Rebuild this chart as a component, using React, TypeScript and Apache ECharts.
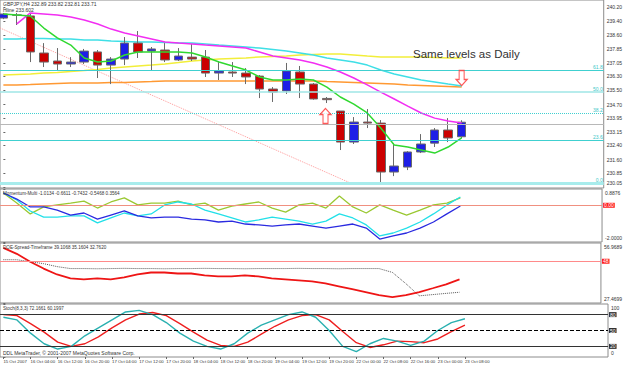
import React, { useEffect, useRef } from "react";
import * as echarts from "echarts";

// ---------- data ----------
const timeLabels = [
  "15 Oct 2007", "16 Oct 04:00", "16 Oct 12:00", "16 Oct 20:00", "17 Oct 04:00", "17 Oct 12:00",
  "17 Oct 20:00", "18 Oct 04:00", "18 Oct 12:00", "18 Oct 20:00", "19 Oct 04:00", "19 Oct 12:00",
  "19 Oct 20:00", "22 Oct 00:00", "22 Oct 08:00", "22 Oct 16:00", "23 Oct 00:00", "23 Oct 08:00",
];
const timeTickBars = [0, 2, 4, 6, 8, 10, 12, 14, 16, 18, 20, 22, 24, 26, 28, 30, 32, 34];
const priceTicks = [240.2, 239.4, 238.6, 237.85, 237.05, 236.3, 235.5, 234.7, 233.95, 233.15, 232.4, 231.6, 230.85, 230.05];

const opens = [239.58, 239.76, 239.70, 237.61, 237.16, 236.99, 237.10, 237.67, 236.93, 237.27, 238.17, 237.72, 237.78, 237.22, 237.38, 237.38, 236.48, 236.54, 236.48, 236.31, 235.58, 235.47, 236.54, 235.86, 235.05, 234.34, 232.59, 233.72, 233.66, 230.90, 231.18, 232.03, 232.53, 233.27, 232.89];
const closes = [239.81, 239.74, 237.67, 237.10, 236.99, 237.10, 237.72, 236.93, 237.27, 238.17, 237.67, 237.84, 237.22, 237.44, 237.27, 236.48, 236.60, 236.48, 236.26, 235.58, 235.41, 236.60, 235.86, 235.02, 234.98, 232.59, 233.72, 233.66, 230.90, 231.24, 232.03, 232.48, 233.27, 232.82, 233.71];
const lows = [239.52, 239.19, 237.10, 236.82, 236.65, 236.82, 236.99, 236.20, 235.86, 236.93, 237.33, 236.60, 237.10, 237.16, 237.16, 236.26, 236.09, 236.26, 235.86, 235.07, 234.85, 235.30, 235.07, 234.98, 234.79, 232.14, 232.48, 233.38, 230.28, 230.67, 231.01, 231.97, 232.31, 232.59, 232.81];
const highs = [239.87, 239.87, 239.87, 238.17, 237.89, 237.38, 237.84, 237.78, 237.38, 238.51, 238.85, 237.95, 238.17, 237.89, 238.12, 237.78, 237.10, 237.10, 236.76, 236.37, 235.69, 237.05, 236.88, 235.92, 235.13, 234.34, 234.00, 234.45, 233.83, 232.53, 232.08, 233.04, 233.38, 233.94, 233.82];

const maMagenta = [null, 239.25, 239.87, 239.81, 239.75, 239.64, 239.47, 239.25, 238.96, 238.74, 238.57, 238.40, 238.23, 238.17, 238.12, 238.06, 238.01, 237.95, 237.89, 237.67, 237.44, 237.33, 237.22, 237.05, 236.82, 236.54, 236.20, 235.81, 235.41, 235.02, 234.62, 234.23, 233.94, 233.78, 233.66];
const maGreen = [239.81, 239.75, 239.70, 239.02, 238.46, 238.06, 237.33, 237.10, 237.16, 237.50, 237.67, 237.67, 237.67, 237.67, 237.61, 237.39, 237.10, 236.88, 236.65, 236.26, 236.09, 236.09, 236.14, 236.09, 235.69, 235.13, 234.73, 234.23, 233.38, 232.42, 232.31, 232.14, 231.97, 232.31, 232.82];
const maCyan = [238.40, 238.40, 238.43, 238.43, 238.40, 238.40, 238.34, 238.34, 238.29, 238.26, 238.23, 238.23, 238.20, 238.17, 238.17, 238.12, 238.06, 238.01, 237.95, 237.89, 237.81, 237.72, 237.61, 237.50, 237.33, 237.22, 237.10, 236.93, 236.65, 236.43, 236.26, 236.09, 235.98, 235.86, 235.75];
const maYellow = [236.37, 236.40, 236.43, 236.48, 236.51, 236.57, 236.62, 236.68, 236.76, 236.82, 236.88, 236.93, 236.99, 237.07, 237.16, 237.22, 237.27, 237.30, 237.33, 237.39, 237.41, 237.44, 237.50, 237.53, 237.55, 237.55, 237.50, 237.44, 237.39, 237.39, 237.39, 237.39, 237.36, 237.33, 237.33];
const maOrange = [235.81, 235.81, 235.83, 235.86, 235.89, 235.92, 235.92, 235.92, 235.95, 235.95, 235.98, 236.00, 236.03, 236.03, 236.03, 236.03, 236.03, 236.03, 236.03, 236.03, 236.03, 236.03, 236.03, 236.03, 236.00, 235.98, 235.95, 235.92, 235.89, 235.86, 235.81, 235.78, 235.75, 235.72, 235.69];

const fibLabels = ["0.0", "23.6", "38.2", "50.0", "61.8"];
const fibPrices = [230.28, 232.70, 234.20, 235.41, 236.62];
const hlinePrice = 233.602;
const lastPrice = 233.71;
const trendLine = [[-0.24, 239.02], [25.75, 230.28]];
const arrowUp = [23.9, 234.06];
const arrowDown = [34, 236.2];

const momBlue = [0.67, 0.34, -0.09, -0.09, -0.26, -0.53, -0.42, -0.75, -0.53, -0.31, -0.58, -0.69, -0.64, -0.64, -0.75, -0.80, -0.91, -0.86, -1.02, -1.07, -1.13, -1.07, -1.02, -1.13, -1.24, -1.13, -1.02, -1.24, -1.84, -1.67, -1.51, -1.24, -0.91, -0.47, -0.04];
const momCyan = [0.67, 0.29, -0.31, -0.64, -0.64, -0.58, -0.58, -0.96, -0.69, -0.42, -0.58, -0.47, 0.02, 0.18, 0.07, -0.26, -0.47, -0.69, -0.91, -0.80, -0.64, -0.75, -0.86, -1.02, -0.86, -0.47, -0.69, -1.07, -1.67, -1.51, -1.24, -0.91, -0.47, 0.02, 0.45];
const momOlive = [0.67, 0.12, -0.47, -0.09, 0.02, 0.12, 0.23, -0.15, 0.18, 0.40, 0.02, 0.12, 0.12, 0.23, 0.02, 0.12, -0.26, -0.04, 0.07, 0.18, -0.15, -0.37, 0.02, 0.12, -0.15, 0.51, -0.09, -0.42, 0.02, -0.26, -0.53, -0.26, 0.02, 0.12, 0.40];
const momTicks = [0.8876, -2.0];
const momLevel = 0;

const doeRed = [54.55, 51.65, 47.78, 44.40, 41.50, 39.56, 39.08, 39.56, 39.08, 40.04, 41.50, 42.46, 42.46, 41.98, 41.98, 41.01, 40.53, 40.53, 41.01, 40.53, 39.56, 39.08, 38.59, 38.11, 37.14, 35.69, 34.24, 32.79, 31.34, 30.37, 31.34, 32.79, 34.72, 36.66, 39.11];
const doeDotted = [48.75, 48.75, 47.78, 46.81, 45.36, 44.40, 44.40, 44.30, 44.40, 44.50, 44.40, 44.40, 44.30, 44.40, 44.40, 44.50, 44.40, 44.40, 44.30, 44.40, 44.40, 44.40, 44.50, 44.40, 44.40, 44.30, 44.40, 44.40, 44.40, 42.50, 37.00, 31.00, 31.60, 32.20, 32.76];
const doeTicks = [56.9689, 27.4699];
const doeLevel = 48;

const stochMain = [75, 70, 45, 25, 15, 20, 40, 55, 70, 85, 88, 80, 65, 45, 30, 20, 15, 25, 45, 60, 70, 80, 85, 75, 50, 20, 10, 25, 35, 30, 22, 30, 50, 65, 72.17];
const stochSignal = [80, 78, 63, 47, 28, 20, 25, 38, 55, 70, 81, 84, 78, 63, 47, 32, 22, 20, 28, 43, 58, 70, 78, 80, 70, 48, 27, 18, 23, 30, 29, 27, 34, 48, 60.2];
const stochTicks = [100, 0];
const stochLevels = [80, 50, 20];

// ---------- layout ----------
const XMIN = -0.25;
const XMAX = 44.54;
const FONT = "Liberation Sans, Arial, sans-serif";
const grids = [
  { top: 0, height: 188 },
  { top: 189, height: 53 },
  { top: 243, height: 60 },
  { top: 304, height: 53 },
];

const pts = (arr: (number | null)[]) =>
  arr.map((v, i) => [i, v]).filter((p) => p[1] !== null);

const lineSeries = (name: string, data: any[], color: string, idx: number, width = 1.5, type: any = "solid", z = 3) => ({
  name,
  type: "line",
  xAxisIndex: idx,
  yAxisIndex: idx,
  data,
  showSymbol: false,
  symbol: "none",
  silent: true,
  z,
  lineStyle: { color, width, type },
});

const levelLabel = (text: string, bg: string, fontSize = 5) => ({
  show: true,
  position: "end",
  formatter: text,
  backgroundColor: bg,
  color: "#fff",
  fontSize,
  padding: [0, 1],
  distance: 1,
  fontFamily: FONT,
});

function buildOption() {
  const xAxes = grids.map((_, i) => ({
    type: "value",
    gridIndex: i,
    min: XMIN,
    max: XMAX,
    splitLine: { show: false },
    axisLine: { show: false },
    axisTick: i === 3 ? { show: true, customValues: timeTickBars, length: 2, lineStyle: { color: "#666" } } : { show: false },
    axisLabel:
      i === 3
        ? {
            show: true,
            customValues: timeTickBars,
            formatter: (v: number) => timeLabels[Math.round(v / 2)] ?? "",
            align: "left",
            fontSize: 4.3,
            color: "#333",
            margin: 2,
            fontFamily: FONT,
            showMinLabel: true,
            showMaxLabel: true,
            hideOverlap: false,
          }
        : { show: false },
  }));

  const labelStyle = { fontSize: 5, color: "#333", fontFamily: FONT };
  const yAxisBase = (
    i: number,
    min: number,
    max: number,
    ticks: number[],
    fmt: (v: number) => string,
    topVals: number[],
    bottomVals: number[]
  ) => ({
    type: "value",
    gridIndex: i,
    position: "right",
    min,
    max,
    splitLine: { show: false },
    axisLine: { show: false },
    axisTick: { show: true, customValues: ticks, length: 2, lineStyle: { color: "#666" } },
    axisLabel: {
      show: true,
      customValues: ticks,
      formatter: (v: number) =>
        topVals.some((t) => Math.abs(t - v) < 1e-6)
          ? `{t|${fmt(v)}}`
          : bottomVals.some((t) => Math.abs(t - v) < 1e-6)
          ? `{b|${fmt(v)}}`
          : fmt(v),
      ...labelStyle,
      margin: 3,
      showMinLabel: true,
      showMaxLabel: true,
      rich: {
        t: { ...labelStyle, padding: [8, 0, 0, 0] },
        b: { ...labelStyle, padding: [0, 0, 8, 0] },
      },
    },
  });

  const yAxes = [
    yAxisBase(0, 230.0, 240.6, priceTicks, (v) => v.toFixed(2), [], [230.05]),
    yAxisBase(1, -2.0, 0.8876, momTicks, (v) => v.toFixed(4), [0.8876], [-2.0]),
    yAxisBase(2, 27.4699, 56.9689, doeTicks, (v) => v.toFixed(4), [56.9689], [27.4699]),
    yAxisBase(3, 0, 100, stochTicks, (v) => String(v), [100], [0]),
  ];

  const fibMarkData = fibPrices.map((p, k) => ({
    yAxis: p,
    lineStyle:
      k === 0
        ? { color: "#a8ecec", width: 3, type: "solid" }
        : k === 2
        ? { color: "#40d0d0", width: 1, type: "dotted" }
        : k === 3
        ? { color: "#9fe6e6", width: 1.5, type: "solid" }
        : { color: "#40d0d0", width: 1.2, type: "solid" },
    label: {
      show: true,
      position: "insideEndTop",
      formatter: fibLabels[k],
      color: "#40c8c8",
      fontSize: 5,
      distance: 1,
      fontFamily: FONT,
    },
  }));

  const series: any[] = [
    {
      name: "trend",
      type: "line",
      xAxisIndex: 0,
      yAxisIndex: 0,
      data: trendLine,
      showSymbol: false,
      symbol: "none",
      silent: true,
      z: 1,
      lineStyle: { color: "#ff9a9a", width: 1, type: "dotted" },
      markLine: {
        silent: true,
        symbol: ["none", "none"],
        animation: false,
        data: [
          ...fibMarkData,
          { yAxis: hlinePrice, lineStyle: { color: "#b8b8b8", width: 1, type: "solid" }, label: { show: false } },
        ],
      },
    },
    lineSeries("orange", pts(maOrange), "#ff9933", 0, 1.5, "solid", 2),
    lineSeries("yellow", pts(maYellow), "#f2ee3a", 0, 1.5, "solid", 2),
    lineSeries("cyan", pts(maCyan), "#3fdfe6", 0, 1.5, "solid", 2),
    {
      name: "candles",
      type: "candlestick",
      xAxisIndex: 0,
      yAxisIndex: 0,
      data: opens.map((o, i) => [i, o, closes[i], lows[i], highs[i]]),
      barWidth: 9,
      z: 3,
      silent: true,
      itemStyle: {
        color: "#1e1ee6",
        color0: "#cc0000",
        borderColor: "#6a6a6a",
        borderColor0: "#6a6a6a",
        borderWidth: 1,
      },
      markLine: {
        silent: true,
        symbol: ["none", "none"],
        animation: false,
        data: [
          {
            yAxis: lastPrice,
            lineStyle: { opacity: 0 },
            label: levelLabel(lastPrice.toFixed(2), "#000", 4.5),
          },
        ],
      },
    },
    lineSeries("magenta", pts(maMagenta), "#f22ef2", 0, 1.5, "solid", 4),
    lineSeries("green", pts(maGreen), "#30d830", 0, 1.5, "solid", 4),
    {
      name: "arrows",
      type: "scatter",
      xAxisIndex: 0,
      yAxisIndex: 0,
      silent: true,
      z: 5,
      symbolSize: [11, 15],
      itemStyle: { color: "#ffffff", borderColor: "#ff3030", borderWidth: 1.2 },
      data: [
        { value: arrowUp, symbol: "path://M5.5,0 L11,6 L8,6 L8,15 L3,15 L3,6 L0,6 Z" },
        { value: arrowDown, symbol: "path://M3,0 L8,0 L8,9 L11,9 L5.5,15 L0,9 L3,9 Z" },
      ],
    },
    {
      ...lineSeries("momOlive", pts(momOlive), "#9ac832", 1, 1.3),
      markLine: {
        silent: true,
        symbol: ["none", "none"],
        animation: false,
        data: [{ yAxis: momLevel, lineStyle: { color: "#f09080", width: 1, type: "solid" }, label: levelLabel("0.00", "#ff2020") }],
      },
    },
    lineSeries("momCyan", pts(momCyan), "#22e0e8", 1, 1.3),
    lineSeries("momBlue", pts(momBlue), "#2a2ae0", 1, 1.3),
    {
      ...lineSeries("doeDotted", pts(doeDotted), "#555555", 2, 1, "dotted"),
      markLine: {
        silent: true,
        symbol: ["none", "none"],
        animation: false,
        data: [{ yAxis: doeLevel, lineStyle: { color: "#ff8a8a", width: 1, type: "solid" }, label: levelLabel(String(doeLevel), "#ff2020") }],
      },
    },
    lineSeries("doeRed", pts(doeRed), "#ee1515", 2, 1.8),
    {
      ...lineSeries("stochSignal", pts(stochSignal), "#ee2020", 3, 1.4),
      markLine: {
        silent: true,
        symbol: ["none", "none"],
        animation: false,
        data: stochLevels.map((lv) => ({
          yAxis: lv,
          lineStyle: { color: lv === 50 ? "#000" : "#333", width: 1, type: lv === 50 ? "dashed" : "solid" },
          label: levelLabel(String(lv), "#333"),
        })),
      },
    },
    lineSeries("stochMain", pts(stochMain), "#2ab0b0", 3, 1.4),
  ];

  const txt = (text: string, left: number, top: number, fontSize = 5, fill = "#333") => ({
    type: "text",
    left,
    top,
    silent: true,
    z: 100,
    style: { text, fontSize, fill, fontFamily: FONT },
  });

  return {
    animation: false,
    backgroundColor: "#ffffff",
    textStyle: { fontFamily: FONT },
    grid: grids.map((g) => ({
      left: 0,
      right: 17,
      top: g.top,
      height: g.height,
      show: true,
      borderColor: "#8c8c8c",
      borderWidth: 1,
      containLabel: false,
    })),
    xAxis: xAxes,
    yAxis: yAxes,
    series,
    graphic: [
      txt("GBPJPY,H4 232.89 233.82 232.81 233.71", 3, 1),
      txt("Hline 233.602", 3, 7),
      txt("Momentum-Multi -1.0134 -0.6611 -0.7432 -0.5468 0.3564", 3, 191, 4.6),
      txt("DOE-Spread-Timeframe 39.1068 35.1604 32.7620", 3, 245, 4.6),
      txt("Stoch(8,3,3) 72.1661 60.1997", 3, 306, 4.6),
      txt("DDL MetaTrader, \u00a9 2001-2007 MetaQuotes Software Corp.", 3, 350, 5),
      txt("Same levels as Daily", 413, 48, 11.5, "#333"),
    ],
  };
}

export default function App() {
  const ref = useRef<HTMLDivElement>(null);
  useEffect(() => {
    if (!ref.current) return;
    const chart = echarts.init(ref.current, null, { renderer: "svg" });
    chart.setOption(buildOption() as any);
    return () => chart.dispose();
  }, []);
  return (
    <div
      ref={ref}
      style={{ position: "fixed", left: 0, top: 0, width: 625, height: 365, background: "#fff" }}
    />
  );
}
